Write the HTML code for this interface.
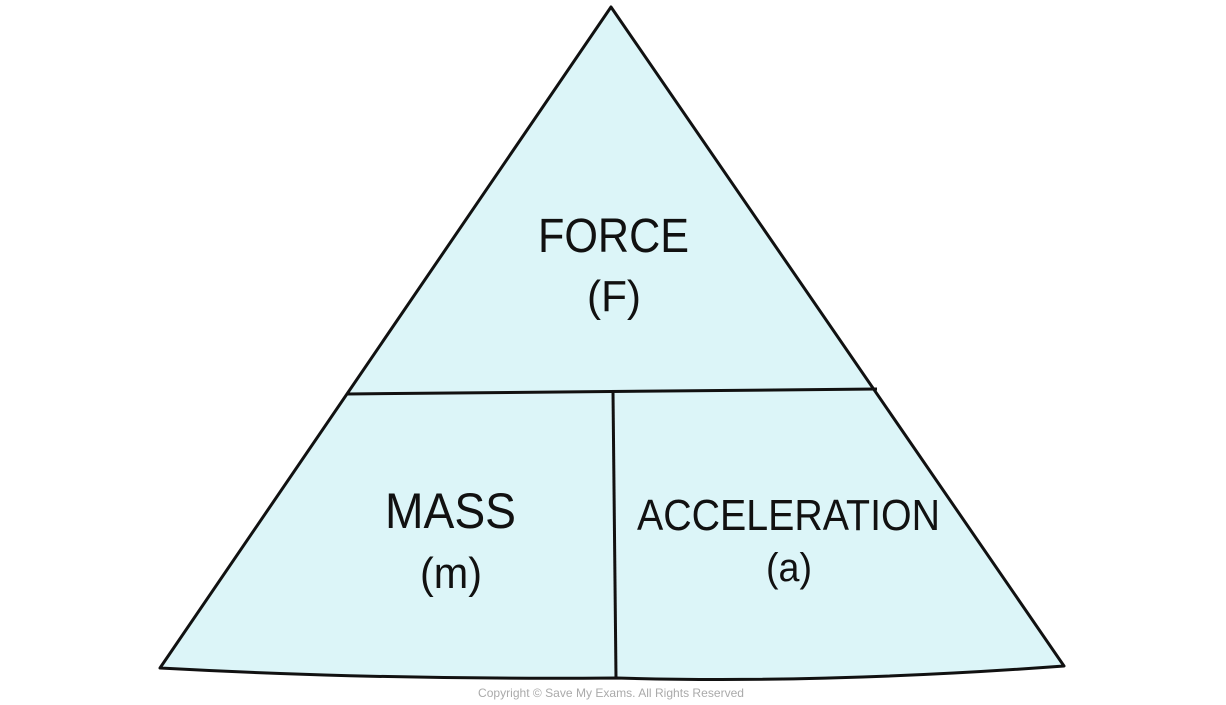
<!DOCTYPE html>
<html><head><meta charset="utf-8"><style>
html,body{margin:0;padding:0;background:#fff;width:1226px;height:705px;overflow:hidden}
svg{display:block}
text{font-family:"Liberation Sans",sans-serif;fill:#111}
</style></head><body>
<svg width="1226" height="705" viewBox="0 0 1226 705">
<path d="M611,7 L1064,666 Q820,684 617,678 Q380,680 160,668 Z" fill="#dcf5f8" stroke="#111" stroke-width="3" stroke-linejoin="round"/>
<line x1="347" y1="394" x2="877" y2="389" stroke="#111" stroke-width="3"/>
<line x1="613" y1="392" x2="616" y2="678" stroke="#111" stroke-width="3"/>
<text x="538" y="252" font-size="48" textLength="151" lengthAdjust="spacingAndGlyphs">FORCE</text>
<text x="587" y="311" font-size="44" textLength="54" lengthAdjust="spacingAndGlyphs">(F)</text>
<text x="385" y="528" font-size="50" textLength="131" lengthAdjust="spacingAndGlyphs">MASS</text>
<text x="420" y="588" font-size="44" textLength="62" lengthAdjust="spacingAndGlyphs">(m)</text>
<text x="637" y="530" font-size="44" textLength="303" lengthAdjust="spacingAndGlyphs">ACCELERATION</text>
<text x="766" y="581" font-size="40" textLength="46" lengthAdjust="spacingAndGlyphs">(a)</text>
<text x="478" y="697" font-size="12" fill="#aaa" style="fill:#aaa" textLength="266" lengthAdjust="spacingAndGlyphs">Copyright © Save My Exams. All Rights Reserved</text>
</svg>
</body></html>
